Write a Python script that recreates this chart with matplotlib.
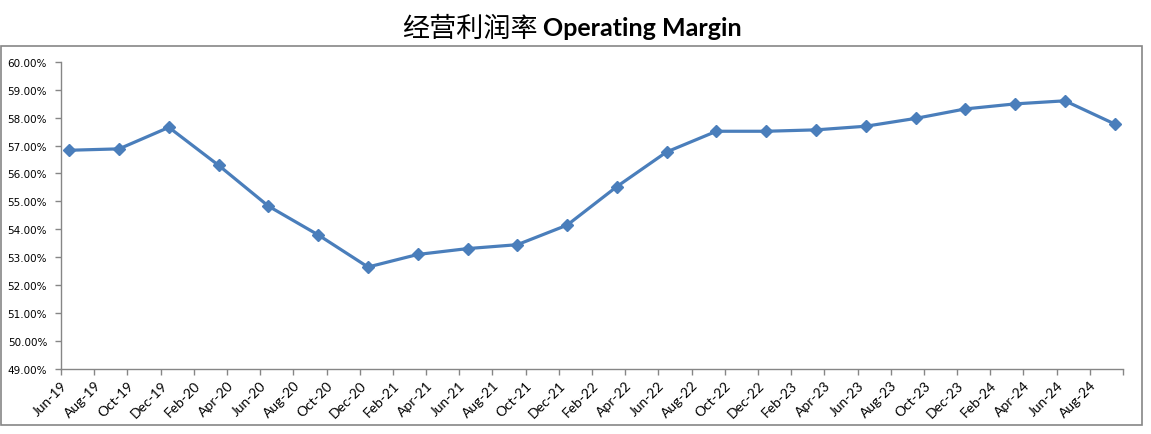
import numpy as np
import matplotlib.pyplot as plt
from matplotlib.patches import Rectangle

# quarterly data points, month index counted from Jun-19
months = [0, 3, 6, 9, 12, 15, 18, 21, 24, 27, 30, 33, 36, 39, 42, 45, 48, 51, 54, 57, 60, 63]
margin = [56.83, 56.88, 57.65, 56.29, 54.83, 53.80, 52.65, 53.10, 53.31, 53.45, 54.15,
          55.53, 56.77, 57.51, 57.51, 57.56, 57.69, 57.97, 58.31, 58.49, 58.60, 57.77]

tick_labels = ['Jun-19', 'Aug-19', 'Oct-19', 'Dec-19', 'Feb-20', 'Apr-20', 'Jun-20', 'Aug-20',
               'Oct-20', 'Dec-20', 'Feb-21', 'Apr-21', 'Jun-21', 'Aug-21', 'Oct-21', 'Dec-21',
               'Feb-22', 'Apr-22', 'Jun-22', 'Aug-22', 'Oct-22', 'Dec-22', 'Feb-23', 'Apr-23',
               'Jun-23', 'Aug-23', 'Oct-23', 'Dec-23', 'Feb-24', 'Apr-24', 'Jun-24', 'Aug-24']

W, H = 1151, 435
fig = plt.figure(figsize=(W / 100, H / 100), dpi=100)

# chart area border
fig.patches.append(Rectangle((0.5 / W, 1 - 426 / H), 1141 / W, 379 / H,
                             transform=fig.transFigure, fill=False,
                             edgecolor='#868686', linewidth=1.2))

ax = fig.add_axes([61 / W, 1 - 370 / H, (1123 - 61) / W, (370 - 62.7) / H])

# points sit in the middle of their month
x = np.array(months) + 0.5
ax.plot(x, margin, color='#4A7EBB', linewidth=2.3, marker='D', markersize=6,
        markerfacecolor='#4A7EBB', markeredgecolor='#4A7EBB')

ax.set_xlim(0, 64)
ax.set_ylim(49, 60)

ax.set_xticks(np.arange(0, 65, 2))
ax.set_xticklabels(tick_labels + [''], rotation=45, ha='right', rotation_mode='anchor',
                   fontsize=10, family='Lato')
yt = np.arange(49, 61, 1)
ax.set_yticks(yt)
ax.set_yticklabels(['%.2f%%' % v for v in yt], fontsize=7.5, family='DejaVu Sans')

for s in ['top', 'right']:
    ax.spines[s].set_visible(False)
for s in ['left', 'bottom']:
    ax.spines[s].set_color('#868686')
    ax.spines[s].set_linewidth(1.0)
ax.tick_params(axis='both', colors='#868686', length=4, width=1.0, labelcolor='black')
ax.tick_params(axis='y', pad=6)
ax.tick_params(axis='x', pad=3)

# title: chinese part + bold english part
fig.text(538 / W, 1 - 29 / H, '经营利润率', ha='right', va='center', fontsize=19.5,
         family=['Noto Sans CJK SC', 'DejaVu Sans'])
fig.text(543 / W, 1 - 29 / H, 'Operating Margin', ha='left', va='center', fontsize=18,
         fontweight='bold', family='Lato')

fig.savefig('out.png', dpi=100)
